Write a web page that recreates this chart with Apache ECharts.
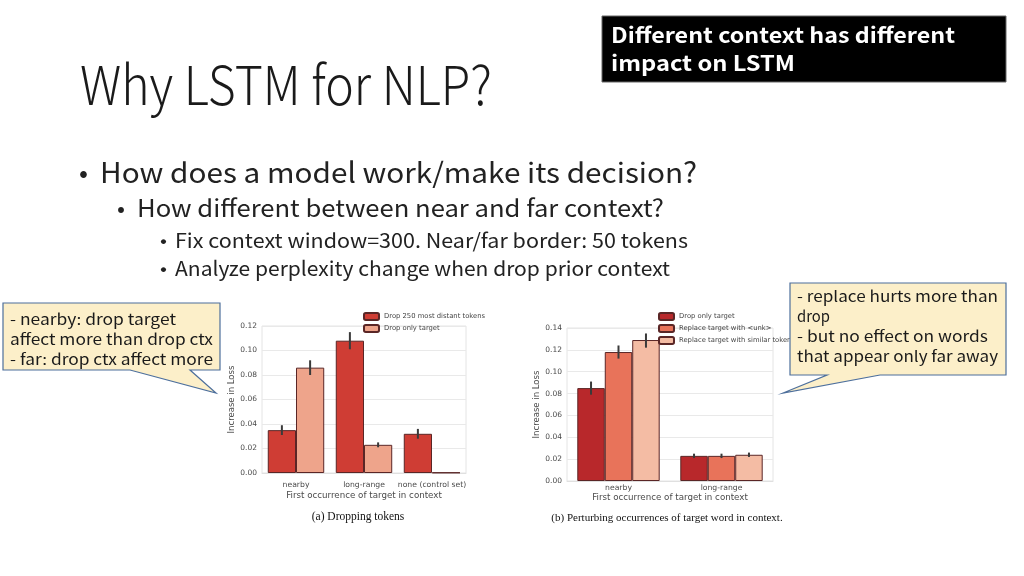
<!DOCTYPE html>
<html><head><meta charset="utf-8">
<script src="https://cdn.jsdelivr.net/npm/echarts@6/dist/echarts.min.js"></script>
<style>html,body{margin:0;padding:0;background:#fff}#c{width:1024px;height:576px}</style>
</head><body><div id="c"></div>
<script>
// ---- data: chart (a) Dropping tokens ----
const catsA = ['nearby', 'long-range', 'none (control set)'];
const namesA = ['Drop 250 most distant tokens', 'Drop only target'];
const dropDistantA = [0.035, 0.108, 0.032];
const dropTargetA = [0.086, 0.023, 0.0004];
const errDistantA = [[0.031, 0.039], [0.101, 0.115], [0.028, 0.036]];
const errTargetA = [[0.080, 0.092], [0.021, 0.025], [0.0004, 0.0004]];
const ticksA = {min: 0, max: 0.12, interval: 0.02};

// ---- data: chart (b) Perturbing occurrences ----
const catsB = ['nearby', 'long-range'];
const namesB = ['Drop only target ', 'Replace target with <unk>', 'Replace target with similar tokens'];
const dropOnlyB = [0.085, 0.023];
const replaceUnkB = [0.118, 0.023];
const replaceSimB = [0.129, 0.024];
const errDropOnlyB = [[0.079, 0.091], [0.021, 0.025]];
const errUnkB = [[0.112, 0.124], [0.021, 0.025]];
const errSimB = [[0.122, 0.135], [0.022, 0.026]];
const ticksB = {min: 0, max: 0.14, interval: 0.02};

const colorsA = ['#cf3d34', '#eea48b'];
const colorsB = ['#b8282b', '#e8735a', '#f4bca4'];
const GAP_A = 0.17, GAP_B = 0.2;
const chartFont = 'DejaVu Sans';
const slideFont = '"Noto Sans CJK JP", "Noto Sans", sans-serif';

const el = document.getElementById('c');
const chart = echarts.init(el, null, {renderer: 'canvas'});

const mctx = document.createElement('canvas').getContext('2d');
function fit(text, x, y, fs, targetW, opt) {
  opt = opt || {};
  const weight = opt.weight || 'normal';
  mctx.font = weight + ' ' + fs + 'px ' + slideFont;
  const w = mctx.measureText(text).width;
  return {type: 'text', x: x, y: y, scaleX: targetW / w, z: opt.z || 50,
    style: {text: text, fontFamily: slideFont, fontSize: fs, fontWeight: weight,
      fill: opt.color || '#222', verticalAlign: 'middle', align: 'left'}};
}

function errSeries(xi, errs, idx, n, gap) {
  return {type: 'custom', xAxisIndex: xi, yAxisIndex: xi, z: 10, silent: true,
    data: errs.map((e, i) => [i, e[0], e[1]]), encode: {x: 0, y: [1, 2]},
    renderItem: function (params, api) {
      const base = api.coord([api.value(0), 0]);
      const catW = api.size([1, 0])[0];
      const bw = catW * (1 - gap) / n;
      const cx = base[0] + (idx - (n - 1) / 2) * bw;
      const lo = api.coord([api.value(0), api.value(1)]);
      const hi = api.coord([api.value(0), api.value(2)]);
      return {type: 'line', shape: {x1: cx, y1: lo[1], x2: cx, y2: hi[1]},
        style: {stroke: '#3a3a3a', lineWidth: 2}};
    }};
}
function barSeries(xi, name, data, color, gap) {
  return {type: 'bar', name: name, xAxisIndex: xi, yAxisIndex: xi, data: data,
    barGap: '0%', barCategoryGap: (gap * 100) + '%',
    itemStyle: {color: color, borderColor: '#5a2626', borderWidth: 1}};
}
function yAx(gi, t, gap) {
  return {type: 'value', gridIndex: gi, min: t.min, max: t.max, interval: t.interval,
    name: 'Increase in Loss', nameLocation: 'middle', nameGap: gap,
    nameTextStyle: {fontFamily: chartFont, fontSize: 8.5, color: '#4a4a4a'},
    axisLabel: {fontFamily: chartFont, fontSize: 7.5, color: '#4a4a4a', margin: 5,
      formatter: v => v.toFixed(2)},
    axisLine: {show: false}, axisTick: {show: false},
    splitLine: {lineStyle: {color: '#e9e9e9', width: 1}}};
}
function xAx(gi, cats, lm, ng) {
  return {type: 'category', gridIndex: gi, data: cats,
    name: 'First occurrence of target in context', nameLocation: 'middle', nameGap: ng,
    nameTextStyle: {fontFamily: chartFont, fontSize: 8.7, color: '#4a4a4a'},
    axisLabel: {fontFamily: chartFont, fontSize: 7.7, color: '#4a4a4a', margin: lm, interval: 0},
    axisLine: {lineStyle: {color: '#e0e0e0'}}, axisTick: {show: false}};
}

// callout shapes
function callout(points) {
  return {type: 'polygon', z: 100, shape: {points: points},
    style: {fill: '#fcefc9', stroke: '#4d6f9c', lineWidth: 1.2}};
}

const graphics = [
  // title + bullets
  fit('Why LSTM for NLP?', 80, 84, 54, 412, {color: '#1a1a1a', weight: 300}),
  fit('\u2022', 79, 172, 26, 9, {color: '#222'}),
  fit('How does a model work/make its decision?', 100, 172, 28, 597, {color: '#222'}),
  fit('\u2022', 117, 208, 22, 8, {color: '#222'}),
  fit('How different between near and far context?', 137, 208, 24, 527, {color: '#222'}),
  fit('\u2022', 160, 240, 18, 7, {color: '#222'}),
  fit('Fix context window=300. Near/far border: 50 tokens', 175, 240, 20, 513, {color: '#222'}),
  fit('\u2022', 160, 268, 18, 7, {color: '#222'}),
  fit('Analyze perplexity change when drop prior context', 175, 268, 20, 495, {color: '#222'}),
  // black box
  {type: 'rect', z: 60, shape: {x: 602, y: 16, width: 404, height: 66},
    style: {fill: '#000', stroke: '#666', lineWidth: 1}},
  fit('Different context has different', 611, 35, 21, 344, {color: '#fff', weight: 'bold', z: 61}),
  fit('impact on LSTM', 611, 63, 21, 184, {color: '#fff', weight: 'bold', z: 61}),
  // left callout
  callout([[3, 303], [220, 303], [220, 370], [190, 370], [216, 393], [130, 370], [3, 370]]),
  fit('- nearby: drop target', 10, 319, 15, 166, {z: 101, color: '#1a1a1a'}),
  fit('affect more than drop ctx', 10, 339, 15, 203, {z: 101, color: '#1a1a1a'}),
  fit('- far: drop ctx affect more', 10, 359, 15, 203, {z: 101, color: '#1a1a1a'}),
  // right callout
  callout([[790, 283], [1006, 283], [1006, 375], [880, 375], [783, 393], [827, 375], [790, 375]]),
  fit('- replace hurts more than', 797, 296, 15, 201, {z: 101, color: '#1a1a1a'}),
  fit('drop', 797, 316, 15, 33, {z: 101, color: '#1a1a1a'}),
  fit('- but no effect on words', 797, 336, 15, 191, {z: 101, color: '#1a1a1a'}),
  fit('that appear only far away', 797, 356, 15, 201, {z: 101, color: '#1a1a1a'}),
  // captions
  {type: 'text', x: 358, y: 517, z: 50, style: {text: '(a) Dropping tokens', fontFamily: 'Liberation Serif',
    fontSize: 11.5, fill: '#111', align: 'center', verticalAlign: 'middle'}},
  {type: 'text', x: 667, y: 518, z: 50, style: {text: '(b) Perturbing occurrences of target word in context.',
    fontFamily: 'Liberation Serif', fontSize: 11, fill: '#111', align: 'center', verticalAlign: 'middle'}}
];

const option = {
  backgroundColor: '#fff',
  animation: false,
  grid: [
    {left: 262, right: 1024 - 466, top: 326, bottom: 576 - 473, show: true, borderColor: '#e4e4e4', borderWidth: 1},
    {left: 567, right: 1024 - 773, top: 328, bottom: 576 - 481, show: true, borderColor: '#e4e4e4', borderWidth: 1}
  ],
  legend: [
    {data: namesA, orient: 'vertical', left: 358, top: 307, itemWidth: 15, itemHeight: 7, itemGap: 3,
      textStyle: {fontFamily: chartFont, fontSize: 6.8, color: '#444'}},
    {data: namesB, orient: 'vertical', left: 653, top: 307, itemWidth: 15, itemHeight: 7, itemGap: 3,
      textStyle: {fontFamily: chartFont, fontSize: 6.8, color: '#444'}}
  ],
  xAxis: [xAx(0, catsA, 8, 18), xAx(1, catsB, 3, 11)],
  yAxis: [yAx(0, ticksA, 23), yAx(1, ticksB, 20)],
  series: [
    barSeries(0, namesA[0], dropDistantA, colorsA[0], GAP_A),
    barSeries(0, namesA[1], dropTargetA, colorsA[1], GAP_A),
    errSeries(0, errDistantA, 0, 2, GAP_A),
    errSeries(0, errTargetA, 1, 2, GAP_A),
    barSeries(1, namesB[0], dropOnlyB, colorsB[0], GAP_B),
    barSeries(1, namesB[1], replaceUnkB, colorsB[1], GAP_B),
    barSeries(1, namesB[2], replaceSimB, colorsB[2], GAP_B),
    errSeries(1, errDropOnlyB, 0, 3, GAP_B),
    errSeries(1, errUnkB, 1, 3, GAP_B),
    errSeries(1, errSimB, 2, 3, GAP_B)
  ],
  graphic: graphics
};
chart.setOption(option);
</script></body></html>
